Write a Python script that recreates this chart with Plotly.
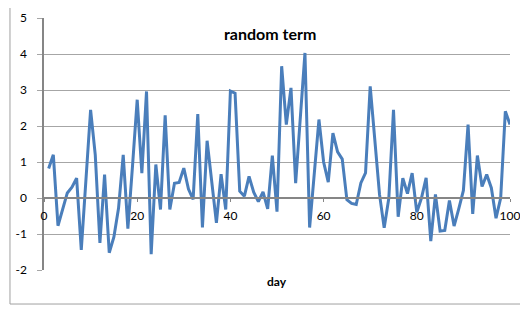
import plotly.graph_objects as go

days = list(range(1, 101))
values = [
    0.82, 1.2, -0.77, -0.31, 0.14, 0.3, 0.55, -1.44, 0.5, 2.45,
    1.2, -1.25, 0.65, -1.52, -1.08, -0.28, 1.2, -0.85, 0.9, 2.73,
    0.69, 2.96, -1.56, 0.93, -0.32, 2.3, -0.32, 0.41, 0.43, 0.83,
    0.25, -0.04, 2.33, -0.82, 1.59, 0.43, -0.69, 0.66, -0.32, 2.97,
    2.91, 0.19, 0.05, 0.6, 0.16, -0.1, 0.17, -0.3, 1.18, -0.38,
    3.66, 2.04, 3.06, 0.41, 2.2, 4.03, -0.82, 0.6, 2.18, 1.0,
    0.44, 1.8, 1.28, 1.08, -0.05, -0.15, -0.18, 0.42, 0.7, 3.1,
    1.53, 0.1, -0.83, 0.0, 2.45, -0.52, 0.55, 0.12, 0.69, -0.4,
    0.0, 0.56, -1.2, 0.1, -0.92, -0.9, -0.07, -0.78, -0.3, 0.21,
    2.04, -0.44, 1.18, 0.32, 0.65, 0.28, -0.56, 0.0, 2.41, 2.04,
]
x_ticks = [0, 20, 40, 60, 80, 100]
y_ticks = [-2, -1, 0, 1, 2, 3, 4, 5]
title_text = "random term"
x_title = "day"

font_family = "Lato, 'Liberation Sans', Arial, sans-serif"

fig = go.Figure()
fig.add_trace(go.Scatter(
    x=days, y=values, mode="lines",
    line=dict(color="#4a7ebb", width=3),
    showlegend=False, hoverinfo="skip",
))

fig.update_layout(
    width=520, height=302,
    margin=dict(l=36, r=18, t=10, b=40),
    paper_bgcolor="white", plot_bgcolor="white",
    font=dict(family=font_family, size=11, color="#000000"),
    xaxis=dict(
        range=[0, 100], tickvals=x_ticks, ticktext=[str(t) for t in x_ticks],
        showgrid=False, zeroline=False, automargin=False,
        anchor="free", position=2 / 7,
        showline=True, linecolor="#868686", linewidth=1.5,
        ticks="outside", ticklen=3, tickcolor="#868686",
        ticklabelstandoff=4,
        tickfont=dict(size=12, color="#000000"),
    ),
    yaxis=dict(
        range=[-2, 5], tickvals=y_ticks, ticktext=[str(t) for t in y_ticks],
        showgrid=True, gridcolor="#a6a6a6", gridwidth=1,
        zeroline=False, automargin=False,
        showline=True, linecolor="#868686", linewidth=1.5,
        ticks="outside", ticklen=5, tickcolor="#a6a6a6",
        ticklabelstandoff=8,
        tickfont=dict(size=12, color="#000000"),
    ),
    annotations=[
        dict(text="<b>" + title_text + "</b>", x=0.485, y=0.94, xref="paper", yref="paper",
             showarrow=False, xanchor="center", yanchor="middle",
             font=dict(size=16, color="#000000", family=font_family)),
        dict(text="<b>" + x_title + "</b>", x=0.50, y=-0.044, xref="paper", yref="paper",
             showarrow=False, xanchor="center", yanchor="middle",
             font=dict(size=12, color="#000000", family=font_family)),
    ],
    shapes=[
        dict(type="rect", xref="paper", yref="paper",
             x0=-0.073, x1=1.034, y0=-0.135, y1=1.08,
             line=dict(color="#a0a0a0", width=1), layer="below"),
    ],
)

fig.write_html("out.html")
